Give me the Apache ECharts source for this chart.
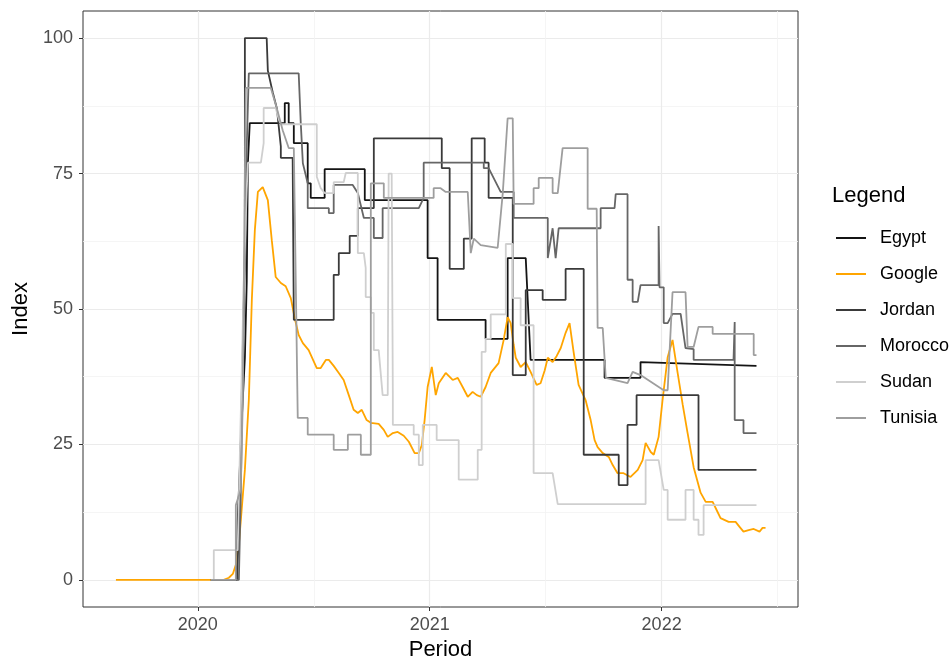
<!DOCTYPE html>
<html>
<head>
<meta charset="utf-8">
<script src="https://cdn.jsdelivr.net/npm/echarts@6/dist/echarts.min.js"></script>
<style>
html,body{margin:0;padding:0;background:#fff;}
#chart{width:952px;height:659px;}
</style>
</head>
<body>
<div id="chart"></div>
<script>
// Period is in decimal years, Index 0-100
const seriesNames = ['Egypt', 'Google', 'Jordan', 'Morocco', 'Sudan', 'Tunisia'];
const yTicks = [0, 25, 50, 75, 100];
const yMinorTicks = [12.5, 37.5, 62.5, 87.5];
const xTicks = [2020, 2021, 2022];
const xMinorTicks = [2019.5, 2020.5, 2021.5, 2022.5];

const egypt = [[2020.056,0],[2020.168,0],[2020.172,11],[2020.190,30],[2020.203,41],[2020.211,55],[2020.216,77],[2020.224,77],[2020.224,84.3],[2020.375,84.3],[2020.375,88],[2020.392,88],[2020.392,84.3],[2020.414,84.3],[2020.414,80.6],[2020.474,80.6],[2020.474,73.2],[2020.487,73.2],[2020.487,70.5],[2020.547,70.5],[2020.547,75.8],[2020.720,75.8],[2020.720,70.1],[2020.991,70.1],[2020.991,59.4],[2021.034,59.4],[2021.034,48],[2021.241,48],[2021.241,44.5],[2021.336,44.5],[2021.336,59.4],[2021.414,59.4],[2021.435,40.6],[2021.754,40.6],[2021.754,37.3],[2021.909,37.3],[2021.909,40.2],[2022.409,39.5]];

const google = [[2019.647,0],[2020.112,0],[2020.134,0.4],[2020.151,1.1],[2020.164,2.8],[2020.177,6.5],[2020.203,20.3],[2020.220,33.2],[2020.233,51.7],[2020.246,64.6],[2020.259,71.6],[2020.280,72.5],[2020.302,70.1],[2020.319,62.7],[2020.336,55.9],[2020.358,54.8],[2020.379,54.2],[2020.401,52],[2020.418,48.3],[2020.435,45.2],[2020.453,43.7],[2020.478,42.4],[2020.513,39.1],[2020.530,39.1],[2020.552,40.6],[2020.565,40.6],[2020.586,39.5],[2020.608,38.2],[2020.629,36.9],[2020.651,34.1],[2020.672,31.4],[2020.690,30.8],[2020.707,31.4],[2020.728,29.5],[2020.746,29],[2020.780,28.8],[2020.802,27.7],[2020.819,26.4],[2020.841,27.1],[2020.862,27.3],[2020.888,26.6],[2020.910,25.5],[2020.935,23.4],[2020.953,23.4],[2020.966,24.9],[2020.978,29.5],[2020.991,35.6],[2021.009,39.3],[2021.026,34.1],[2021.039,36.3],[2021.069,38.2],[2021.099,36.9],[2021.121,37.3],[2021.142,35.6],[2021.164,33.8],[2021.185,34.7],[2021.203,34.1],[2021.220,33.8],[2021.241,35.6],[2021.263,38.2],[2021.297,40],[2021.319,44.3],[2021.336,48.5],[2021.349,47.4],[2021.362,43.4],[2021.371,41],[2021.392,39.3],[2021.414,40.2],[2021.435,38.4],[2021.461,36],[2021.478,36.3],[2021.496,38.7],[2021.509,41],[2021.530,40.2],[2021.547,41.3],[2021.565,42.8],[2021.586,45.6],[2021.603,47.4],[2021.621,41.9],[2021.642,36],[2021.672,33.2],[2021.694,29.5],[2021.711,25.8],[2021.724,24.5],[2021.746,23.4],[2021.772,22.7],[2021.789,21.2],[2021.810,19.7],[2021.836,19.7],[2021.866,19],[2021.897,20.3],[2021.918,22.1],[2021.931,25.3],[2021.953,23.6],[2021.966,23.1],[2021.987,26.4],[2022.004,33.2],[2022.026,41.1],[2022.047,44.3],[2022.069,38.2],[2022.091,32.3],[2022.112,27.1],[2022.138,20.8],[2022.168,16.1],[2022.190,14.4],[2022.220,14.4],[2022.237,12.9],[2022.254,11.4],[2022.289,10.7],[2022.319,10.7],[2022.336,9.8],[2022.353,8.9],[2022.375,9.2],[2022.397,9.4],[2022.422,8.9],[2022.435,9.6],[2022.448,9.6]];

const jordan = [[2020.056,0],[2020.168,0],[2020.177,8],[2020.190,35],[2020.203,60],[2020.203,100],[2020.297,100],[2020.302,94],[2020.323,90],[2020.341,87],[2020.358,80],[2020.358,77.9],[2020.409,77.9],[2020.414,48],[2020.586,48],[2020.586,56.3],[2020.608,56.3],[2020.608,60.3],[2020.655,60.3],[2020.655,63.5],[2020.690,63.5],[2020.690,68.6],[2020.759,68.6],[2020.759,81.5],[2021.052,81.5],[2021.052,76],[2021.086,76],[2021.086,57.4],[2021.147,57.4],[2021.147,63],[2021.181,63],[2021.181,81.5],[2021.237,81.5],[2021.237,77],[2021.254,77],[2021.254,70.5],[2021.358,70.5],[2021.358,37.8],[2021.414,37.8],[2021.414,53.5],[2021.487,53.5],[2021.487,51.7],[2021.586,51.7],[2021.586,57.4],[2021.664,57.4],[2021.664,23.1],[2021.815,23.1],[2021.815,17.5],[2021.853,17.5],[2021.853,28.6],[2021.892,28.6],[2021.892,34.1],[2022.159,34.1],[2022.159,20.3],[2022.409,20.3]];

const morocco = [[2020.056,0],[2020.177,0],[2020.185,15],[2020.198,50],[2020.211,80],[2020.220,93.5],[2020.435,93.5],[2020.444,84.3],[2020.453,76.9],[2020.474,73.2],[2020.474,68.6],[2020.565,68.6],[2020.565,67.7],[2020.586,67.7],[2020.586,72.9],[2020.668,72.9],[2020.690,71.4],[2020.716,66.8],[2020.759,66.8],[2020.759,63.1],[2020.797,63.1],[2020.797,68.6],[2020.953,68.6],[2020.974,70.5],[2020.974,77],[2021.233,77],[2021.233,76],[2021.254,76],[2021.306,71.6],[2021.362,71.6],[2021.362,66.8],[2021.509,66.8],[2021.509,59.4],[2021.530,64.9],[2021.543,59.4],[2021.556,64.9],[2021.737,64.9],[2021.737,68.6],[2021.797,68.6],[2021.802,71.2],[2021.853,71.2],[2021.853,55.4],[2021.875,55.4],[2021.875,51.3],[2021.897,51.3],[2021.909,54.4],[2021.987,54.4],[2021.987,65.3],[2021.991,54],[2022.009,54],[2022.009,47.4],[2022.026,47.4],[2022.047,49.1],[2022.082,49.1],[2022.103,42.8],[2022.138,42.6],[2022.138,40.6],[2022.310,40.6],[2022.315,47.6],[2022.315,29.5],[2022.353,29.5],[2022.353,27.1],[2022.409,27.1]];

const sudan = [[2020.069,0],[2020.069,5.5],[2020.172,5.5],[2020.185,30],[2020.198,55],[2020.211,72],[2020.216,77],[2020.272,77],[2020.284,80.6],[2020.284,87.1],[2020.336,87.1],[2020.349,85],[2020.358,84.1],[2020.513,84.1],[2020.513,74.4],[2020.530,72.3],[2020.547,71.4],[2020.586,71.4],[2020.586,73.4],[2020.629,73.4],[2020.638,75.1],[2020.690,75.1],[2020.690,60.3],[2020.716,60.3],[2020.724,57.6],[2020.724,52.2],[2020.746,52.2],[2020.746,49.3],[2020.759,49.3],[2020.759,42.4],[2020.780,42.4],[2020.797,34.1],[2020.819,34.1],[2020.823,75],[2020.836,75],[2020.841,34.1],[2020.841,28.6],[2020.931,28.6],[2020.931,26.8],[2020.953,26.8],[2020.953,21.2],[2020.970,21.2],[2020.970,28.6],[2021.030,28.6],[2021.030,25.8],[2021.125,25.8],[2021.125,18.5],[2021.207,18.5],[2021.207,24],[2021.224,24],[2021.224,42.1],[2021.241,42.1],[2021.241,44.5],[2021.263,44.5],[2021.263,49],[2021.328,49],[2021.328,62],[2021.358,62],[2021.358,52],[2021.392,52],[2021.392,47],[2021.448,47],[2021.448,19.7],[2021.530,19.7],[2021.552,14],[2021.931,14],[2021.931,22.1],[2021.987,22.1],[2022.009,16.6],[2022.026,16.6],[2022.026,11.1],[2022.103,11.1],[2022.103,16.6],[2022.138,16.6],[2022.138,11.1],[2022.159,11.1],[2022.159,8.3],[2022.181,8.3],[2022.181,13.8],[2022.409,13.8]];

const tunisia = [[2020.056,0],[2020.164,0],[2020.164,13.8],[2020.185,16.6],[2020.194,33],[2020.198,51.7],[2020.203,75],[2020.207,90.8],[2020.315,90.8],[2020.341,87],[2020.366,83],[2020.392,79.7],[2020.414,79.7],[2020.431,29.9],[2020.474,29.9],[2020.474,26.8],[2020.586,26.8],[2020.586,24],[2020.647,24],[2020.647,26.8],[2020.703,26.8],[2020.703,23.1],[2020.746,23.1],[2020.746,73.2],[2020.802,73.2],[2020.802,70.5],[2021.017,70.5],[2021.017,72.3],[2021.047,72.3],[2021.069,71.6],[2021.164,71.6],[2021.177,60.3],[2021.190,63],[2021.220,61.8],[2021.293,61.3],[2021.315,71.4],[2021.336,85.2],[2021.358,85.2],[2021.362,69.4],[2021.448,69.4],[2021.448,72.3],[2021.470,72.3],[2021.470,74.2],[2021.530,74.2],[2021.530,71.4],[2021.552,71.4],[2021.573,79.7],[2021.681,79.7],[2021.681,68.5],[2021.720,68.5],[2021.724,46.5],[2021.746,46.5],[2021.759,37.3],[2021.853,36.3],[2021.875,38.4],[2021.909,37.8],[2022.009,35],[2022.026,35],[2022.047,53.1],[2022.103,53.1],[2022.112,43],[2022.138,43],[2022.159,46.7],[2022.220,46.7],[2022.220,45.4],[2022.397,45.4],[2022.397,41.5],[2022.409,41.5]];

const seriesData = [egypt, google, jordan, morocco, sudan, tunisia];
const seriesColors = ['#141414', '#FFA500', '#3a3a3a', '#666666', '#cfcfcf', '#9e9e9e'];

const FONT = '"Liberation Sans", Arial, sans-serif';

const gridMarks = [];
yTicks.forEach(v => gridMarks.push({yAxis: v, lineStyle: {color: '#ebebeb', width: 1.2, type: 'solid'}}));
yMinorTicks.forEach(v => gridMarks.push({yAxis: v, lineStyle: {color: '#f3f3f3', width: 0.8, type: 'solid'}}));
xTicks.forEach(v => gridMarks.push({xAxis: v, lineStyle: {color: '#ebebeb', width: 1.2, type: 'solid'}}));
xMinorTicks.forEach(v => gridMarks.push({xAxis: v, lineStyle: {color: '#f3f3f3', width: 0.8, type: 'solid'}}));

const series = [{
  name: '__grid',
  type: 'line',
  data: [],
  silent: true,
  z: 0,
  markLine: {
    silent: true,
    z: 0,
    symbol: ['none', 'none'],
    label: {show: false},
    animation: false,
    data: gridMarks
  }
}];
seriesNames.forEach((name, i) => {
  series.push({
    name: name,
    type: 'line',
    data: seriesData[i],
    showSymbol: false,
    symbol: 'none',
    lineStyle: {color: seriesColors[i], width: 1.8},
    itemStyle: {color: seriesColors[i]},
    z: 10 + i,
    animation: false,
    emphasis: {disabled: true}
  });
});

const chart = echarts.init(document.getElementById('chart'), null, {renderer: 'canvas'});
chart.setOption({
  animation: false,
  backgroundColor: '#ffffff',
  textStyle: {fontFamily: FONT},
  title: {
    text: 'Legend',
    left: 832,
    top: 185,
    padding: 0,
    textStyle: {fontFamily: FONT, fontSize: 22, fontWeight: 'normal', color: '#000'}
  },
  legend: {
    data: seriesNames,
    orient: 'vertical',
    left: 836,
    top: 227,
    padding: 0,
    icon: 'rect',
    itemWidth: 30,
    itemHeight: 2,
    itemGap: 14,
    textStyle: {fontFamily: FONT, fontSize: 18, color: '#000', lineHeight: 22, padding: [0, 0, 0, 9]},
    selectedMode: false
  },
  grid: {
    left: 83, top: 11, width: 715, height: 596,
    show: true, borderColor: '#333333', borderWidth: 1, backgroundColor: '#fff',
    containLabel: false,
    outerBoundsMode: 'none'
  },
  xAxis: {
    type: 'value',
    min: 2019.505,
    max: 2022.588,
    name: 'Period',
    nameLocation: 'middle',
    nameGap: 31,
    nameTextStyle: {fontFamily: FONT, fontSize: 22, color: '#000'},
    axisLine: {show: false, onZero: false},
    splitLine: {show: false},
    axisTick: {show: true, customValues: xTicks, length: 4, lineStyle: {color: '#333', width: 1}},
    axisLabel: {customValues: xTicks, formatter: v => String(Math.round(v)), fontFamily: FONT, fontSize: 18, color: '#4d4d4d', margin: 9}
  },
  yAxis: {
    type: 'value',
    min: -5,
    max: 105,
    name: 'Index',
    nameLocation: 'middle',
    nameGap: 50,
    nameRotate: 90,
    nameTextStyle: {fontFamily: FONT, fontSize: 22, color: '#000'},
    axisLine: {show: false, onZero: false},
    splitLine: {show: false},
    axisTick: {show: true, customValues: yTicks, length: 4, lineStyle: {color: '#333', width: 1}},
    axisLabel: {customValues: yTicks, fontFamily: FONT, fontSize: 18, color: '#4d4d4d', margin: 10}
  },
  series: series
});
</script>
</body>
</html>
